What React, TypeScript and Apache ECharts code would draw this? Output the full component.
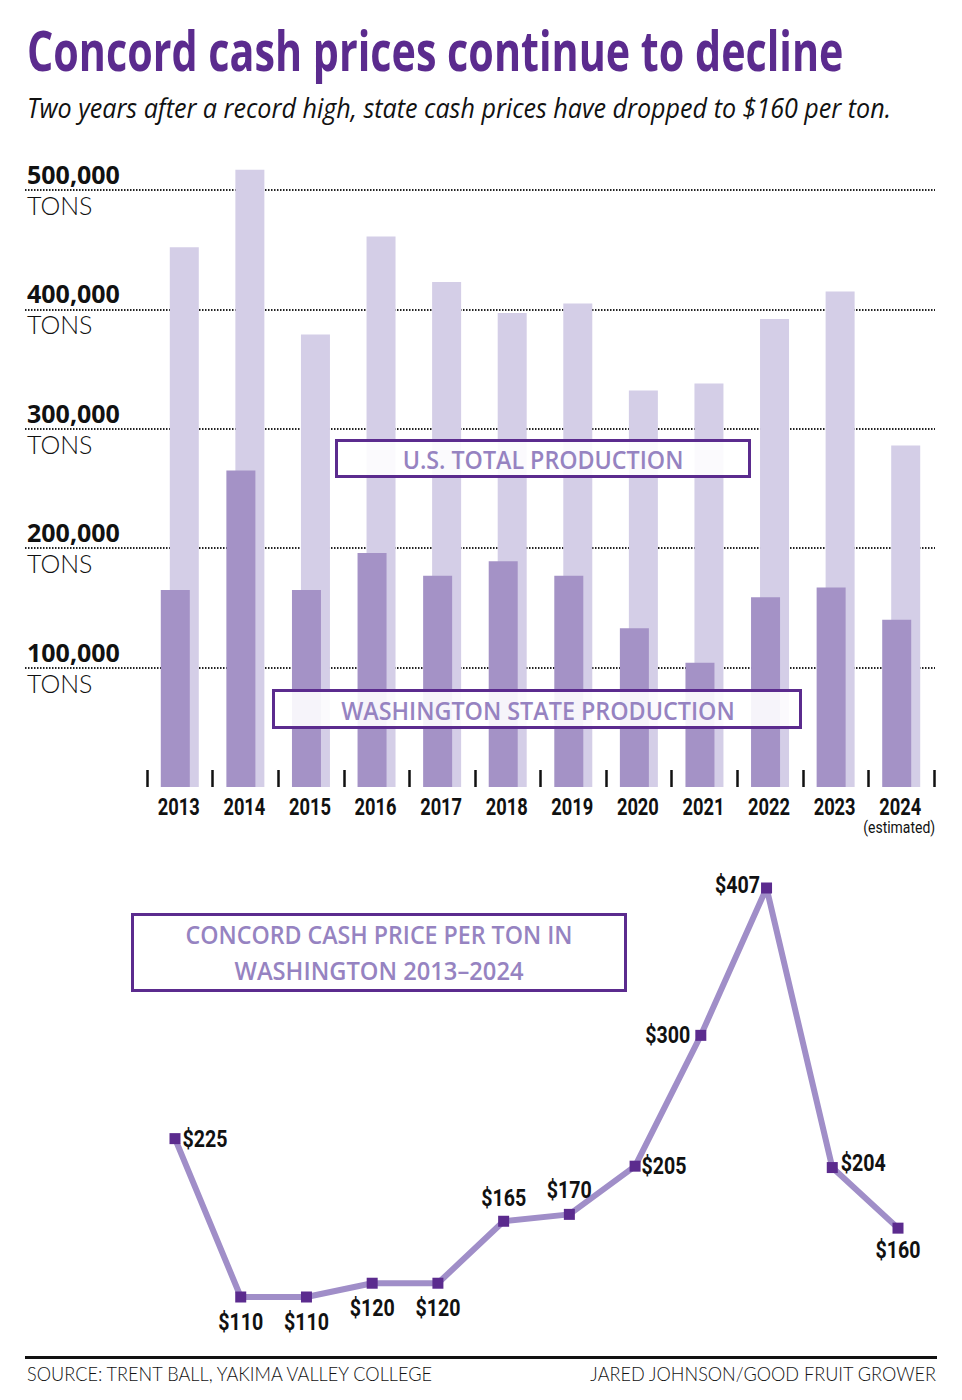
import React, { useEffect, useRef } from "react";
import * as echarts from "echarts";

// ---------- DATA ----------
const years = ["2013", "2014", "2015", "2016", "2017", "2018", "2019", "2020", "2021", "2022", "2023", "2024"];
const usTotalTons = [452000, 517000, 379000, 461000, 423000, 397000, 405000, 332000, 338000, 392000, 415000, 286000];
const waStateTons = [165000, 265000, 165000, 196000, 177000, 189000, 177000, 133000, 104000, 159000, 167000, 140000];
const cashPricePerTon = [225, 110, 110, 120, 120, 165, 170, 205, 300, 407, 204, 160];
const tonTickLabels = ["100,000", "200,000", "300,000", "400,000", "500,000"];
const lastYearNote = "(estimated)";

// label placement for each price point: [position, distance, dy]
const priceLabelPlacement: [string, number, number][] = [
  ["right", 2, 0],
  ["bottom", 8, 0],
  ["bottom", 8, 0],
  ["bottom", 8, 0],
  ["bottom", 8, 0],
  ["top", 6, 0],
  ["top", 7, 0],
  ["right", 1, 0],
  ["left", 5, 0],
  ["left", 1, -3],
  ["right", 3, -5],
  ["bottom", 5, 0],
];

const PURPLE = "#5b2b8e";
const BOX_TEXT = "#9683c1";
const WA_COLOR = "#a492c6";
const US_COLOR = "#d4cee7";
const LINE_COLOR = "#a08ec8";

function makeMeasurer() {
  const ctx = document.createElement("canvas").getContext("2d")!;
  return (text: string, font: string) => {
    ctx.font = font;
    return ctx.measureText(text).width;
  };
}

export default function App() {
  const ref = useRef<HTMLDivElement>(null);

  useEffect(() => {
    if (!ref.current) return;
    const measure = makeMeasurer();
    const OPEN = `"Open Sans", sans-serif`;
    const LIGHT = `Lato, sans-serif`;
    const ROBOTO = `Roboto, sans-serif`;

    const fit = (
      text: string,
      x: number,
      y: number,
      width: number,
      size: number,
      weight: string | number,
      fam: string,
      color: string,
      align: string = "left",
      fstyle: string = "normal"
    ) => {
      const w = measure(text, `${fstyle} ${weight} ${size}px ${fam}`);
      return {
        type: "text",
        x,
        y,
        scaleX: width / w,
        z: 100,
        style: {
          text,
          fill: color,
          fontSize: size,
          fontWeight: weight,
          fontFamily: fam,
          fontStyle: fstyle,
          align,
          verticalAlign: "middle",
          textAlign: align,
          textVerticalAlign: "middle",
        },
      };
    };

    const box = (x0: number, y0: number, x1: number, y1: number) => ({
      type: "rect",
      z: 90,
      shape: { x: x0 + 1.5, y: y0 + 1.5, width: x1 - x0 - 3, height: y1 - y0 - 3 },
      style: { fill: "rgba(255,255,255,0.9)", stroke: PURPLE, lineWidth: 3 },
    });

    // condensed look: horizontal scale factors computed from measured widths
    const yearSize = 23;
    const yearScale = 42 / measure("2013", `normal bold ${yearSize}px ${ROBOTO}`);
    const noteSize = 17;
    const noteScale = 72 / measure(lastYearNote, `normal normal ${noteSize}px ${ROBOTO}`);
    const priceSize = 23;
    const priceScale = 45 / measure("$225", `normal bold ${priceSize}px ${ROBOTO}`);

    const chart = echarts.init(ref.current, null, { renderer: "svg" });

    const option: any = {
      animation: false,
      backgroundColor: "#ffffff",
      grid: [
        { left: 147, right: 28, top: 190, bottom: 613 },
        { left: 25, right: 27, top: 190, bottom: 613 },
        { left: 175, right: 64, top: 888, bottom: 103 },
      ],
      xAxis: [
        {
          type: "category",
          gridIndex: 0,
          data: years,
          boundaryGap: true,
          axisLine: { show: false },
          axisTick: { show: true, interval: 0, inside: true, length: 17, lineStyle: { color: "#111", width: 2.5 } },
          axisLabel: { show: false },
          splitLine: { show: false },
        },
        { type: "value", gridIndex: 1, min: 0, max: 1, show: false },
        { type: "category", gridIndex: 2, data: years, boundaryGap: false, show: false },
      ],
      yAxis: [
        { type: "value", gridIndex: 0, min: 0, max: 500000, interval: 100000, show: false },
        {
          type: "value",
          gridIndex: 1,
          position: "left",
          min: 0,
          max: 500000,
          interval: 100000,
          axisLine: { show: false },
          axisTick: { show: false },
          splitLine: {
            show: true,
            showMinLine: false,
            lineStyle: { color: "#222", width: 2, type: [1.5, 1.5] },
          },
          axisLabel: {
            inside: true,
            margin: 2,
            verticalAlign: "bottom",
            fontFamily: OPEN,
            fontWeight: "bold",
            fontSize: 25,
            lineHeight: 24,
            padding: [0, 0, 4, 0],
            color: "#111",
            formatter: (v: number) => {
              const idx = Math.round(v / 100000) - 1;
              return idx < 0 || idx >= tonTickLabels.length ? "" : tonTickLabels[idx];
            },
          },
        },
        {
          type: "value",
          gridIndex: 1,
          position: "left",
          offset: 0,
          min: 0,
          max: 500000,
          interval: 100000,
          axisLine: { show: false },
          axisTick: { show: false },
          splitLine: { show: false },
          axisLabel: {
            inside: true,
            margin: 2,
            verticalAlign: "top",
            fontFamily: LIGHT,
            fontWeight: 300,
            fontSize: 25,
            lineHeight: 24,
            padding: [3, 0, 0, 0],
            color: "#111",
            formatter: (v: number) => (v === 0 ? "" : "TONS"),
          },
        },
        { type: "value", gridIndex: 2, min: 110, max: 407, show: false },
      ],
      series: [
        {
          type: "bar",
          name: "Washington State production",
          xAxisIndex: 0,
          yAxisIndex: 0,
          data: waStateTons,
          barWidth: 29,
          barGap: "-69%",
          itemStyle: { color: WA_COLOR },
          z: 3,
        },
        {
          type: "bar",
          name: "U.S. total production",
          xAxisIndex: 0,
          yAxisIndex: 0,
          data: usTotalTons,
          barWidth: 29,
          barGap: "-69%",
          itemStyle: { color: US_COLOR },
          z: 2,
          clip: false,
        },
        {
          // year labels under the bars (condensed via scaleX)
          type: "custom",
          name: "year labels",
          xAxisIndex: 0,
          yAxisIndex: 0,
          clip: false,
          silent: true,
          z: 4,
          data: years.map((_, i) => [i, 0]),
          renderItem: (params: any, api: any) => {
            const i = api.value(0);
            const [cx, cy] = api.coord([i, 0]);
            const children: any[] = [
              {
                type: "text",
                x: cx - 1,
                y: cy + 20,
                scaleX: yearScale,
                style: {
                  text: years[i],
                  fill: "#111",
                  fontFamily: ROBOTO,
                  fontWeight: "bold",
                  fontSize: yearSize,
                  align: "center",
                  verticalAlign: "middle",
                },
              },
            ];
            if (i === years.length - 1) {
              children.push({
                type: "text",
                x: cx - 2,
                y: cy + 41,
                scaleX: noteScale,
                style: {
                  text: lastYearNote,
                  fill: "#111",
                  fontFamily: ROBOTO,
                  fontWeight: "normal",
                  fontSize: noteSize,
                  align: "center",
                  verticalAlign: "middle",
                },
              });
            }
            return { type: "group", children };
          },
        },
        {
          type: "line",
          name: "Concord cash price per ton",
          xAxisIndex: 2,
          yAxisIndex: 3,
          data: cashPricePerTon,
          symbol: "rect",
          symbolSize: 11,
          itemStyle: { color: PURPLE },
          lineStyle: { color: LINE_COLOR, width: 6 },
          z: 5,
        },
        {
          // price labels (condensed via scaleX)
          type: "custom",
          name: "price labels",
          xAxisIndex: 2,
          yAxisIndex: 3,
          clip: false,
          silent: true,
          z: 6,
          data: cashPricePerTon.map((v, i) => [i, v]),
          renderItem: (params: any, api: any) => {
            const i = api.value(0);
            const v = api.value(1);
            const [cx, cy] = api.coord([i, v]);
            const [pos, dist, dy] = priceLabelPlacement[i];
            const half = 5.5;
            let x = cx;
            let y = cy + dy;
            let align = "center";
            let vAlign = "middle";
            if (pos === "right") {
              x = cx + half + dist;
              align = "left";
            } else if (pos === "left") {
              x = cx - half - dist;
              align = "right";
            } else if (pos === "top") {
              y = cy - half - dist + dy;
              vAlign = "bottom";
            } else {
              y = cy + half + dist + dy;
              vAlign = "top";
            }
            return {
              type: "text",
              x,
              y,
              scaleX: priceScale,
              style: {
                text: `$${v}`,
                fill: "#111",
                fontFamily: ROBOTO,
                fontWeight: "bold",
                fontSize: priceSize,
                align,
                verticalAlign: vAlign,
              },
            };
          },
        },
      ],
      graphic: [
        fit("Concord cash prices continue to decline", 27, 49, 816, 56, "bold", OPEN, PURPLE),
        fit(
          "Two years after a record high, state cash prices have dropped to $160 per ton.",
          27,
          107,
          865,
          28,
          "normal",
          OPEN,
          "#111",
          "left",
          "italic"
        ),
        box(335, 439, 751, 478),
        fit("U.S. TOTAL PRODUCTION", 543, 459, 281, 26, 600, OPEN, BOX_TEXT, "center"),
        box(272, 689, 802, 729),
        fit("WASHINGTON STATE PRODUCTION", 538, 710, 394, 26, 600, OPEN, BOX_TEXT, "center"),
        box(131, 913, 627, 992),
        fit("CONCORD CASH PRICE PER TON IN", 379, 934, 387, 26, 600, OPEN, BOX_TEXT, "center"),
        fit("WASHINGTON 2013–2024", 379, 970, 289, 26, 600, OPEN, BOX_TEXT, "center"),
        {
          type: "rect",
          z: 100,
          shape: { x: 25, y: 1356, width: 912, height: 3 },
          style: { fill: "#111" },
        },
        fit("SOURCE: TRENT BALL, YAKIMA VALLEY COLLEGE", 27, 1373, 409, 20, 300, LIGHT, "#111"),
        fit("JARED JOHNSON/GOOD FRUIT GROWER", 936, 1373, 347, 20, 300, LIGHT, "#111", "right"),
      ],
    };

    chart.setOption(option);
    return () => chart.dispose();
  }, []);

  return (
    <div
      ref={ref}
      style={{ position: "absolute", left: 0, top: 0, width: 962, height: 1400, background: "#fff" }}
    />
  );
}
